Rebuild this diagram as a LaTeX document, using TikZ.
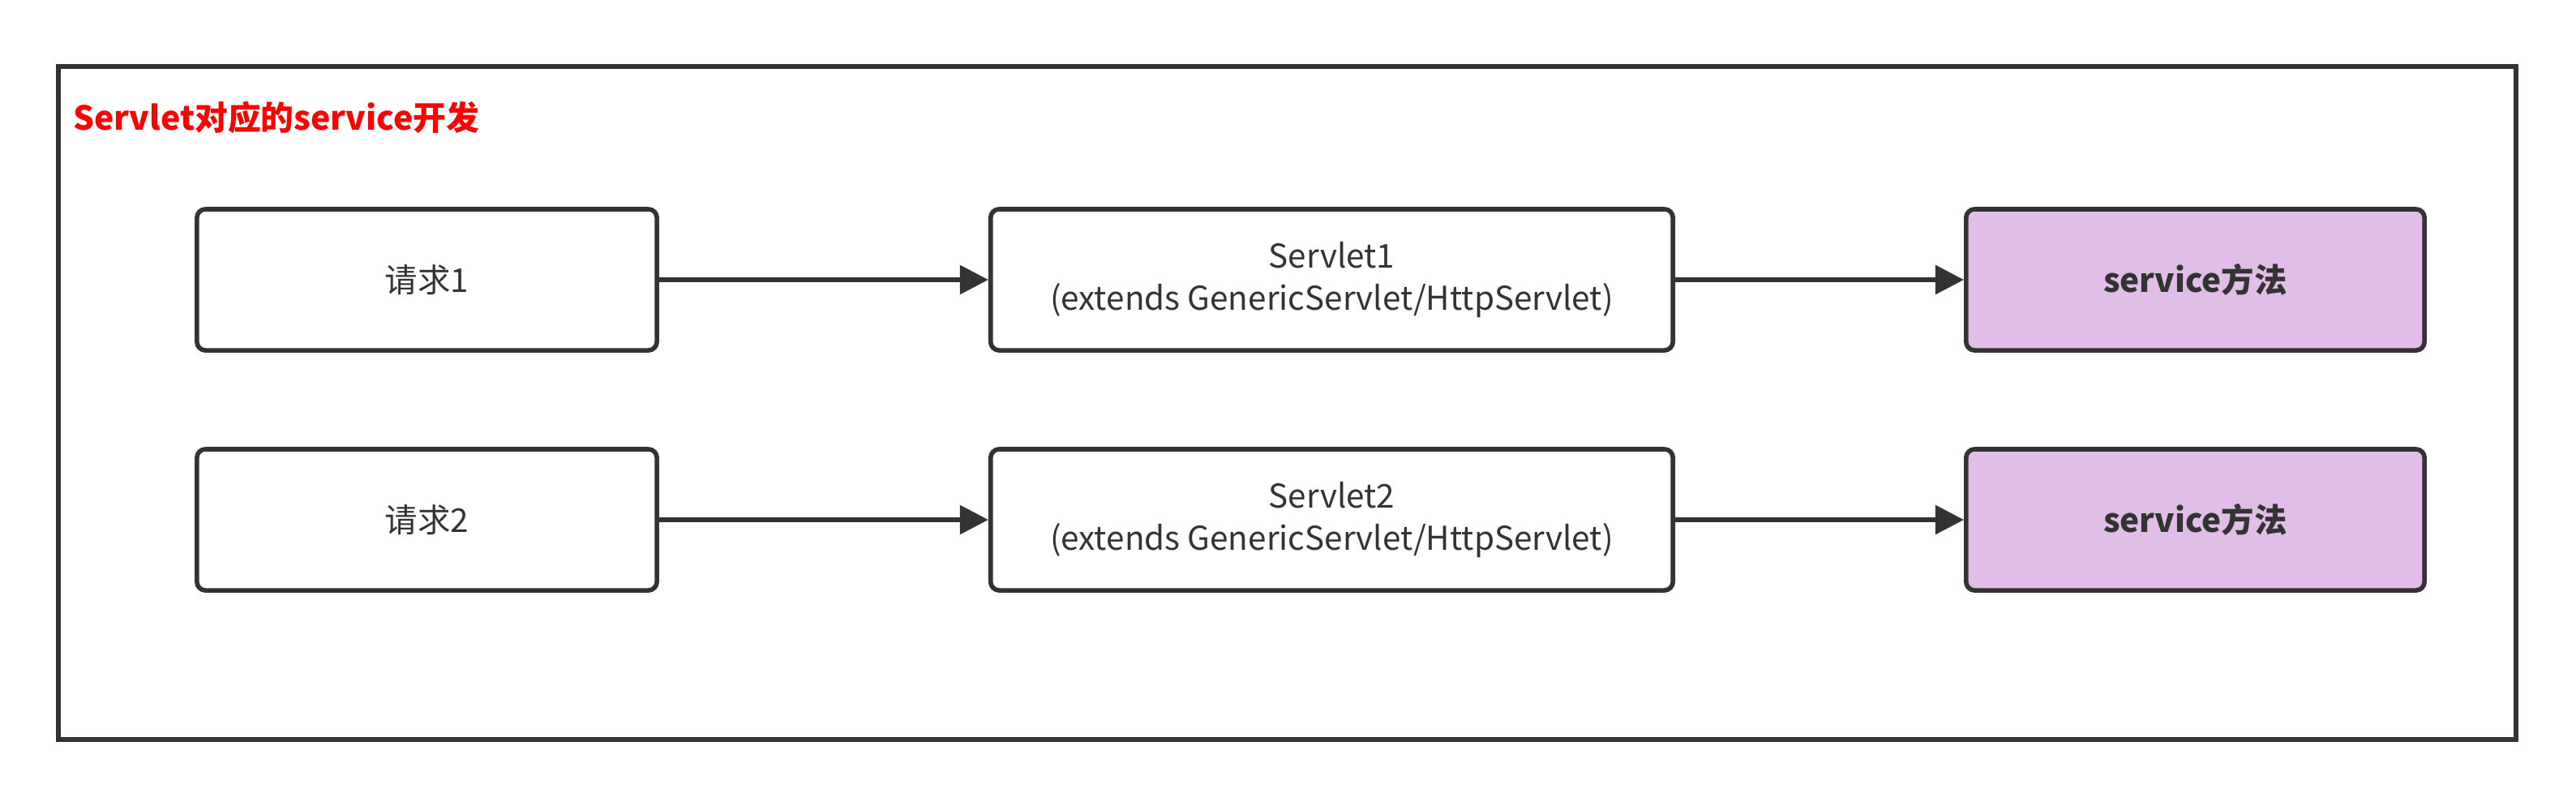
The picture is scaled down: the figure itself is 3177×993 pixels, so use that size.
\documentclass[tikz,border=0pt]{standalone}
\usepackage{fontspec}
\setmainfont{Noto Sans CJK SC}
\usepackage{xcolor}
\usetikzlibrary{arrows.meta}

\definecolor{linegray}{HTML}{333333}
\definecolor{titlered}{HTML}{FF0000}
\definecolor{methodpurple}{HTML}{E1BEE7}

\begin{document}
\begin{tikzpicture}[x=0.01cm, y=-0.01cm,
  stepbox/.style={draw=linegray, line width=1.6pt, rounded corners=3pt, fill=white,
    minimum width=5.67cm, minimum height=1.74cm, inner sep=0pt, align=center,
    font=\fontsize{11.5}{15}\selectfont, text=linegray},
  servletbox/.style={stepbox, minimum width=8.41cm},
  methodbox/.style={stepbox, minimum width=5.65cm, fill=methodpurple, font=\fontsize{11.5}{15}\selectfont\bfseries},
  flow/.style={draw=linegray, line width=1.6pt, -{Triangle[length=10pt,width=10pt]}}]

\useasboundingbox (0,0) rectangle (3177,993);
\fill[white] (0,0) rectangle (3177,993);

% outer frame
\draw[linegray, line width=1.5pt] (72,82) rectangle (3103,912);

\node[anchor=west, text=titlered, font=\fontsize{11.6}{15}\selectfont\bfseries] (title) at (78,145) {Servlet对应的service开发};

% first request
\node[stepbox] (req1) at (526.5,345) {请求1};
\node[servletbox] (srv1) at (1642.5,345) {Servlet1\\(extends GenericServlet/HttpServlet)};
\node[methodbox] (svc1) at (2707.5,345) {service方法};

% second request
\node[stepbox] (req2) at (526.5,641) {请求2};
\node[servletbox] (srv2) at (1642.5,641) {Servlet2\\(extends GenericServlet/HttpServlet)};
\node[methodbox] (svc2) at (2707.5,641) {service方法};

\draw[flow] (req1) -- (srv1);
\draw[flow] (srv1) -- (svc1);
\draw[flow] (req2) -- (srv2);
\draw[flow] (srv2) -- (svc2);

\end{tikzpicture}
\end{document}
